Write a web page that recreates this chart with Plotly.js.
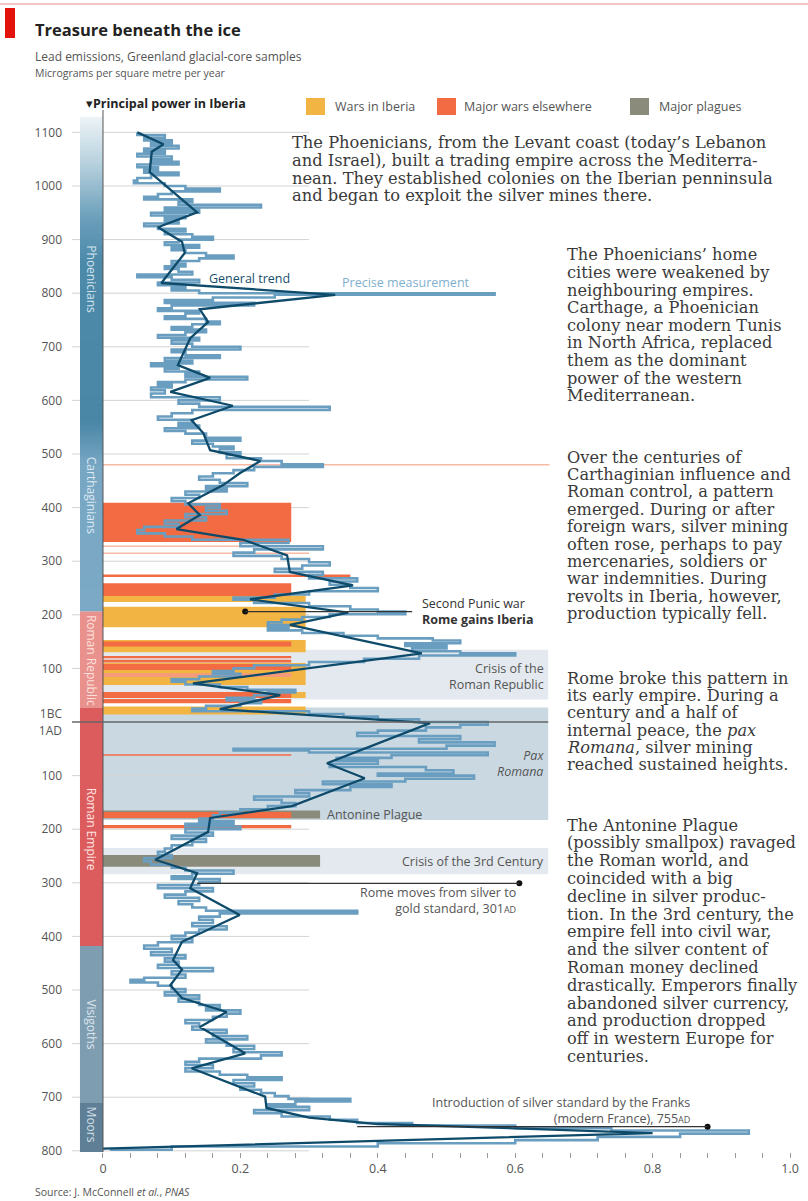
<!DOCTYPE html>
<html><head><meta charset="utf-8">
<script src="https://cdn.plot.ly/plotly-3.0.1.min.js"></script>
<style>body{margin:0;background:#fff}#chart{width:808px;height:1201px}</style>
</head><body><div id="chart"></div>
<script>
// ---------------- DATA ----------------
// Years: BC negative, AD positive
const preciseYear = [-1100,-1095,-1090,-1085,-1080,-1075,-1070,-1065,-1060,-1055,-1050,-1045,-1040,-1035,-1030,-1025,-1020,-1015,-1010,-1005,-1000,-995,-990,-985,-980,-975,-970,-965,-960,-955,-950,-945,-940,-935,-930,-925,-920,-915,-910,-905,-900,-895,-890,-885,-880,-875,-870,-865,-860,-855,-850,-845,-840,-835,-830,-825,-820,-815,-810,-805,-800,-797,-792,-787,-782,-777,-772,-767,-762,-757,-752,-747,-742,-737,-732,-727,-722,-717,-712,-706,-700,-695,-690,-684,-679,-674,-669,-664,-659,-654,-649,-644,-639,-634,-629,-624,-619,-613,-606,-600,-594,-588,-582,-576,-570,-564,-558,-553,-548,-543,-538,-530,-525,-519,-514,-509,-503,-498,-492,-487,-481,-476,-470,-464,-458,-452,-446,-440,-435,-430,-424,-418,-412,-406,-400,-394,-388,-382,-376,-370,-364,-358,-352,-346,-340,-334,-328,-322,-316,-310,-304,-298,-292,-286,-280,-274,-268,-262,-256,-250,-244,-238,-232,-228,-222,-216,-210,-206,-201,-196,-191,-186,-181,-176,-171,-166,-161,-156,-152,-147,-142,-137,-132,-128,-124,-118,-112,-106,-100,-95,-90,-85,-80,-75,-70,-65,-60,-55,-50,-45,-40,-35,-30,-25,-20,-15,-10,-5,0,5,10,16,20,26,32,38,44,50,53,57,62,67,72,78,84,90,96,100,106,111,116,121,127,133,139,145,151,157,163,169,174,180,185,190,195,200,206,212,218,224,230,236,242,248,254,260,266,272,277,283,288,293,298,304,310,316,322,328,334,340,346,352,357,363,369,375,381,387,393,399,405,411,417,423,429,435,441,447,453,459,465,471,477,481,486,492,498,504,510,516,522,528,533,538,544,550,556,562,568,574,580,586,592,598,604,610,616,622,628,634,640,646,652,658,663,668,674,680,686,692,698,703,708,713,718,724,730,736,742,748,753,758,762,768,774,780,786,792,798];
const preciseValue = [.05,.09,.06,.10,.07,.11,.06,.09,.05,.10,.07,.11,.05,.08,.06,.11,.07,.05,.045,.09,.12,.17,.10,.08,.06,.13,.11,.23,.09,.14,.07,.12,.09,.11,.06,.08,.12,.09,.13,.16,.11,.09,.14,.10,.12,.15,.19,.14,.10,.12,.09,.11,.13,.05,.10,.14,.08,.12,.10,.14,.57,.25,.16,.09,.22,.10,.08,.14,.12,.09,.15,.17,.13,.10,.15,.12,.08,.14,.10,.13,.20,.10,.12,.17,.09,.13,.07,.11,.09,.14,.12,.21,.12,.08,.10,.07,.09,.07,.17,.11,.14,.33,.13,.10,.08,.13,.11,.14,.09,.12,.15,.20,.13,.16,.19,.17,.20,.18,.23,.26,.32,.22,.19,.16,.14,.17,.21,.15,.18,.12,.14,.10,.12,.17,.15,.18,.12,.15,.09,.11,.06,.05,.09,.13,.27,.20,.32,.22,.19,.26,.30,.33,.29,.25,.32,.30,.37,.33,.36,.40,.30,.25,.19,.22,.30,.36,.40,.44,.33,.29,.26,.24,.27,.24,.29,.35,.40,.48,.52,.44,.50,.45,.52,.60,.46,.38,.30,.22,.19,.16,.20,.14,.10,.12,.17,.21,.28,.24,.22,.18,.23,.20,.15,.13,.30,.35,.40,.46,.56,.52,.47,.40,.37,.52,.46,.57,.50,.19,.30,.56,.42,.34,.40,.33,.47,.51,.40,.54,.44,.32,.42,.36,.28,.30,.22,.26,.28,.24,.20,.17,.16,.14,.19,.12,.20,.12,.16,.10,.15,.13,.10,.09,.08,.10,.06,.07,.10,.12,.19,.13,.10,.17,.14,.08,.16,.12,.09,.14,.11,.13,.15,.37,.17,.14,.16,.13,.18,.14,.12,.10,.13,.08,.06,.10,.07,.12,.09,.11,.08,.16,.10,.12,.06,.04,.08,.10,.12,.09,.14,.11,.14,.17,.15,.20,.18,.16,.12,.14,.13,.18,.16,.21,.15,.18,.22,.19,.26,.23,.14,.12,.16,.12,.17,.21,.26,.19,.22,.20,.23,.25,.27,.36,.28,.24,.30,.22,.26,.33,.37,.45,.60,.74,.94,.84,.72,.60,.40,.10,.01];

const trendYear = [-1100,-1078,-1064,-1026,-951,-923,-896,-875,-819,-797,-770,-746,-716,-666,-642,-616,-590,-563,-539,-507,-487,-464,-442,-408,-386,-360,-340,-311,-280,-255,-229,-204,-181,-128,-72,-50,-24,2,77,105,157,179,205,257,282,310,360,410,444,462,491,515,541,569,618,646,699,720,738,750,758,767,796];
const trendValue = [0.05,0.088,0.071,0.068,0.137,0.080,0.115,0.119,0.085,0.338,0.141,0.153,0.127,0.109,0.156,0.098,0.189,0.129,0.146,0.156,0.229,0.199,0.175,0.124,0.141,0.107,0.204,0.268,0.272,0.364,0.214,0.357,0.272,0.464,0.131,0.258,0.170,0.476,0.326,0.381,0.275,0.156,0.153,0.076,0.137,0.127,0.199,0.115,0.102,0.115,0.098,0.115,0.180,0.141,0.207,0.129,0.236,0.238,0.30,0.40,0.60,0.80,0.0];

// Principal power in Iberia
const powerNames = ['Phoenicians','Carthaginians','Roman Republic','Roman Empire','Visigoths','Moors'];
const powerStart = [-1130,-510,-206,-27,418,711];
const powerEnd   = [-510,-206,-27,418,711,803];

// Events (start year, end year)
const iberiaWarStart = [-236,-215,-153,-110,-56,-29];
const iberiaWarEnd   = [-224,-177,-130,-69,-45,-14];
const warStart = [-409,-259,-150,-123,-116,-108,-56,-43,60,168,192];
const warEnd   = [-336,-235,-141,-119,-111,-97,-45,-35,63,179,198];
const warPaleStart = [-91];
const warPaleEnd = [-84];
const warLineYear = [-480,-328,-315,-273];
const plagueStart = [165,248];
const plagueEnd   = [180,270];

const periodNames = ['Crisis of the<br>Roman Republic','<i>Pax<br>Romana</i>','Crisis of the 3rd Century'];
const periodStart = [-135,-27,235];
const periodEnd   = [-42,183,284];

// Marked events
const markerYear  = [-206,301,755];
const markerValue = [0.207,0.606,0.88];
const markerLineTo = [0.45,0.137,0.37];

const yTickVals = [-1100,-1000,-900,-800,-700,-600,-500,-400,-300,-200,-100,-16,16,100,200,300,400,500,600,700,800];
const yTickText = ['1100','1000','900','800','700','600','500','400','300','200','100','1BC','1AD','100','200','300','400','500','600','700','800'];
const gridYears = [-1100,-1000,-900,-800,-700,-600,-500,-400,-300,-200,-100,100,200,300,400,500,600,700,800];
const xTickVals = [];
const xTickText = [];
for (let i=0;i<=25;i++){ const v=+(i*0.04).toFixed(2); xTickVals.push(v); xTickText.push(i%5===0 ? (v===0?'0':v.toFixed(1)) : ''); }

const block1 = ["The Phoenicians, from the Levant coast (today\u2019s Lebanon","and Israel), built a trading empire across the Mediterra-","nean. They established colonies on the Iberian penninsula","and began to exploit the silver mines there."];
const block2 = ["The Phoenicians\u2019 home","cities were weakened by","neighbouring empires.","Carthage, a Phoenician","colony near modern Tunis","in North Africa, replaced","them as the dominant","power of the western","Mediterranean."];
const block3 = ["Over the centuries of","Carthaginian influence and","Roman control, a pattern","emerged. During or after","foreign wars, silver mining","often rose, perhaps to pay","mercenaries, soldiers or","war indemnities. During","revolts in Iberia, however,","production typically fell."];
const block4 = ["Rome broke this pattern in","its early empire. During a","century and a half of","internal peace, the <i>pax</i>","<i>Romana</i>, silver mining","reached sustained heights."];
const block5 = ["The Antonine Plague","(possibly smallpox) ravaged","the Roman world, and","coincided with a big","decline in silver produc-","tion. In the 3rd century, the","empire fell into civil war,","and the silver content of","Roman money declined","drastically. Emperors finally","abandoned silver currency,","and production dropped","off in western Europe for","centuries."];

// ---------------- LAYOUT HELPERS ----------------
const W=808, H=1201, M={l:72,r:10,t:117,b:49};
const PW=W-M.l-M.r, PH=H-M.t-M.b;
const px = p => (p-M.l)/PW;
const py = p => (H-M.b-p)/PH;
const SANS = 'Open Sans, Roboto, sans-serif';
const SERIF = 'DejaVu Serif, serif';
const BAND_L = -0.0335;
const C = {yellow:'#f2b443', red:'#f26b43', pale:'#f6b9a4', plague:'#8b8b7b',
  pax:'#cad8e2', crisis:'#e3e9ee', grid:'#d3d3d3'};

const shapes = [];
const annotations = [];

// background period bands
periodStart.forEach((s,i)=>{
  shapes.push({type:'rect',layer:'below',xref:'x',yref:'y',x0:0,x1:0.648,y0:s,y1:periodEnd[i],
    fillcolor: i===1?C.pax:C.crisis, line:{width:0}});
});
// gridlines
gridYears.forEach(g=>{
  shapes.push({type:'line',layer:'below',xref:'x',yref:'y',x0:-0.0451,x1:0.30,y0:g,y1:g,line:{color:C.grid,width:1}});
});
// thin war lines
const warLineEnd = [0.65,0.30,0.30,0.36];
warLineYear.forEach((y,i)=>{
  shapes.push({type:'line',layer:'below',xref:'x',yref:'y',x0:0,x1:warLineEnd[i],y0:y,y1:y,
    line:{color:i===3?C.red:C.pale,width:i===3?2.5:1.5}});
});
// plague bars
plagueStart.forEach((s,i)=>{
  shapes.push({type:'rect',layer:'below',xref:'x',yref:'y',x0:0,x1:0.316,y0:s,y1:plagueEnd[i],fillcolor:C.plague,line:{width:0}});
});
// Iberian wars
iberiaWarStart.forEach((s,i)=>{
  shapes.push({type:'rect',layer:'below',xref:'x',yref:'y',x0:0,x1:0.295,y0:s,y1:iberiaWarEnd[i],fillcolor:C.yellow,line:{width:0}});
});
// wars elsewhere
warStart.forEach((s,i)=>{
  shapes.push({type:'rect',layer:'below',xref:'x',yref:'y',x0:0,x1:0.274,y0:s,y1:warEnd[i],fillcolor:C.red,line:{width:0}});
});
warPaleStart.forEach((s,i)=>{
  shapes.push({type:'rect',layer:'below',xref:'x',yref:'y',x0:0,x1:0.274,y0:s,y1:warPaleEnd[i],fillcolor:'#f59a7c',line:{width:0}});
});

// principal power band
function hex(c){return [parseInt(c.slice(1,3),16),parseInt(c.slice(3,5),16),parseInt(c.slice(5,7),16)];}
function lerp(a,b,t){const A=hex(a),B=hex(b);return 'rgb('+A.map((v,k)=>Math.round(v+(B[k]-v)*t)).join(',')+')';}
const phoenStops = [[-1130,'#eef4f7'],[-1040,'#b6d0dd'],[-940,'#6b9fba'],[-860,'#4d8aaa'],[-560,'#4a87a6'],[-480,'#78a7c4'],[-206,'#7ba9c6']];
for (let y=-1130; y<-206; y+=5){
  const m=y+2.5; let c='#7ba9c6';
  for (let k=0;k<phoenStops.length-1;k++){ if(m>=phoenStops[k][0]&&m<=phoenStops[k+1][0]){c=lerp(phoenStops[k][1],phoenStops[k+1][1],(m-phoenStops[k][0])/(phoenStops[k+1][0]-phoenStops[k][0]));break;} }
  shapes.push({type:'rect',xref:'x',yref:'y',x0:BAND_L,x1:0,y0:y,y1:Math.min(y+8,-206),fillcolor:c,line:{width:0}});
}
const powerColors = [null,null,'#e8918d','#dc5c5e','#7f9db1','#5e7f96'];
powerStart.forEach((s,i)=>{
  if(!powerColors[i]) return;
  shapes.push({type:'rect',xref:'x',yref:'y',x0:BAND_L,x1:0,y0:s,y1:powerEnd[i],fillcolor:powerColors[i],line:{width:0}});
});
const powerLabelY = [-825,-423,-115,200,565,752];
const powerLabelColor = ['#cfe2ec','#dbe8f1','#fde0dc','#fde3e1','#dbe6ed','#d3dfe7'];
powerNames.forEach((n,i)=>{
  annotations.push({xref:'x',yref:'y',x:BAND_L/2,y:powerLabelY[i],text:n,textangle:90,showarrow:false,
    font:{family:SANS,size:12,color:powerLabelColor[i]}});
});

// axis line at x=0 and year-0 line
shapes.push({type:'line',xref:'x',yref:'paper',x0:0,x1:0,y0:0,y1:py(110),line:{color:'#555',width:1}});
shapes.push({type:'line',xref:'x',yref:'y',x0:-0.0451,x1:0.648,y0:0,y1:0,line:{color:'#666',width:1.5}});

// marker lines
markerYear.forEach((y,i)=>{
  shapes.push({type:'line',xref:'x',yref:'y',x0:markerValue[i],x1:markerLineTo[i],y0:y,y1:y,line:{color:'#333',width:1.3}});
});

// ---------------- TEXT ----------------
function txt(x,y,text,opt){ annotations.push(Object.assign({xref:'paper',yref:'paper',x:px(x),y:py(y),text:text,showarrow:false,
  xanchor:'left',yanchor:'middle',font:{family:SANS,size:12.5,color:'#555'}},opt||{})); }

txt(33,30,'<b>Treasure beneath the ice</b>',{font:{family:SANS,size:16.5,color:'#222'}});
txt(33,57,'Lead emissions, Greenland glacial-core samples',{font:{family:SANS,size:12,color:'#555'}});
txt(33,73,'Micrograms per square metre per year',{font:{family:SANS,size:10.5,color:'#555'}});
txt(84,103,'\u25BE<b>Principal power in Iberia</b>',{font:{family:SANS,size:12.5,color:'#222'}});
txt(333,106,'Wars in Iberia');
txt(462,106,'Major wars elsewhere');
txt(657,106,'Major plagues');
txt(33,1192,'Source: J. McConnell <i>et al.</i>, <i>PNAS</i>',{font:{family:SANS,size:10.5,color:'#555'}});

txt(207,278,'General trend',{font:{family:SANS,size:12.5,color:'#174f6e'}});
txt(340,282,'Precise measurement',{font:{family:SANS,size:12.5,color:'#7fb0cf'}});
txt(420,603,'Second Punic war',{font:{family:SANS,size:12.5,color:'#333'}});
txt(420,619,'<b>Rome gains Iberia</b>',{font:{family:SANS,size:12.5,color:'#333'}});
txt(546,676,periodNames[0],{xanchor:'right',align:'right'});
txt(546,763,periodNames[1],{xanchor:'right',align:'right'});
txt(325,814,'Antonine Plague');
txt(546,861,periodNames[2],{xanchor:'right'});
txt(518,901,'Rome moves from silver to<br>gold standard, 301<span style="font-size:9px">AD</span>',{xanchor:'right',align:'right'});
txt(692,1110,'Introduction of silver standard by the Franks<br>(modern France), 755<span style="font-size:9px">AD</span>',{xanchor:'right',align:'right'});

function block(lines,x,y0,dy,size){ lines.forEach((l,i)=>txt(x,y0+i*dy,l,{font:{family:SERIF,size:size,color:'#3a3a3a'}})); }
block(block1,290,143,17.5,16.3);
block(block2,565,255,17.6,16.2);
block(block3,565,457,17.4,16.2);
block(block4,565,678,17.4,16.2);
block(block5,565,825,17.8,16.2);

// legend squares & title bar
const legendSq = [[306,C.yellow],[437,C.red],[630,C.plague]];
legendSq.forEach(s=>shapes.push({type:'rect',xref:'paper',yref:'paper',x0:px(s[0]),x1:px(s[0]+19),y0:py(98),y1:py(115),fillcolor:s[1],line:{width:0}}));
shapes.push({type:'rect',xref:'paper',yref:'paper',x0:px(5),x1:px(15),y0:py(8),y1:py(38),fillcolor:'#e3120b',line:{width:0}});
shapes.push({type:'line',xref:'paper',yref:'paper',x0:px(0),x1:px(808),y0:py(4),y1:py(4),line:{color:'#ef8a8a',width:1}});

// ---------------- TRACES ----------------
const traces = [
  {type:'scatter',mode:'lines',x:preciseValue,y:preciseYear,line:{color:'#6a9ec0',width:2.6,shape:'vh'},hoverinfo:'skip'},
  {type:'scatter',mode:'lines',x:trendValue,y:trendYear,line:{color:'#0e4a6a',width:2.3},hoverinfo:'skip'},
  {type:'scatter',mode:'markers',x:markerValue,y:markerYear,marker:{color:'#111',size:6},hoverinfo:'skip'}
];

const layout = {
  width:W,height:H,margin:M,paper_bgcolor:'#fff',plot_bgcolor:'rgba(0,0,0,0)',showlegend:false,
  xaxis:{range:[-0.0451,1.0116],tickvals:xTickVals,ticktext:xTickText,ticks:'outside',ticklen:5,tickcolor:'#999',
    showgrid:false,zeroline:false,showline:false,tickfont:{family:SANS,size:12.5,color:'#555'}},
  yaxis:{range:[802.2,-1128.7],tickvals:yTickVals,ticktext:yTickText,ticks:'',showgrid:false,zeroline:false,showline:false,
    ticklabelstandoff:9,tickfont:{family:SANS,size:12,color:'#555'}},
  shapes:shapes,annotations:annotations
};
Plotly.newPlot('chart',traces,layout,{staticPlot:true});
</script></body></html>
